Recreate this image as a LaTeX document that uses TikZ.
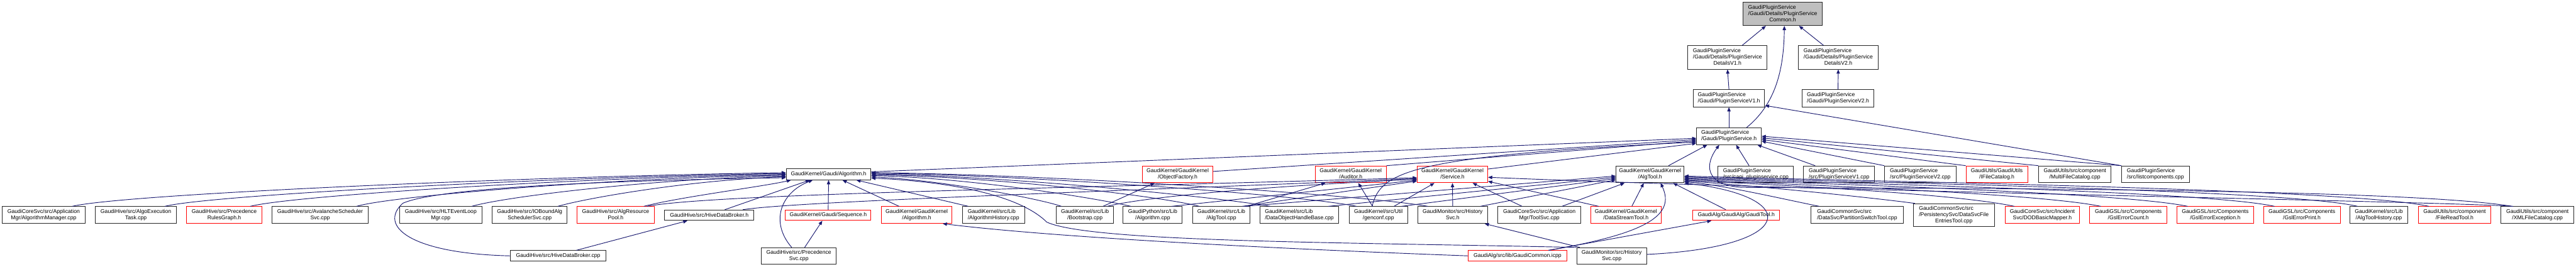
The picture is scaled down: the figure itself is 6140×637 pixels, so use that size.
\documentclass[tikz,border=0pt]{standalone}
\usepackage{fontspec}
\setmainfont{Liberation Sans}
\usetikzlibrary{arrows.meta,calc}
\definecolor{edgec}{HTML}{191970}
\definecolor{rootc}{HTML}{BFBFBF}
\newcommand\twol[2]{\begin{tabular}{@{}l@{}}#1\\\multicolumn{1}{@{}c@{}}{#2}\end{tabular}}
\newcommand\threel[3]{\begin{tabular}{@{}l@{}}#1\\#2\\\multicolumn{1}{@{}c@{}}{#3}\end{tabular}}
\newcommand\gnode[7]{\node[#6, minimum width={(#3-#2)*0.5pt}, minimum height={(#5-#4)*0.5pt}] (#1) at ({(#2+#3)/2},{(#4+#5)/2}) {#7};}
\tikzset{
 gbox/.style={draw=black!85, line width=0.7pt, fill=white, inner sep=0pt, font=\fontsize{6.5}{7.5}\selectfont, text=black},
 rbox/.style={gbox, draw=red},
 root/.style={gbox, fill=rootc},
 edge/.style={draw=edgec, line width=0.7pt, -{Triangle[length=5pt,width=4pt]}},
}
\begin{document}
\begin{tikzpicture}[x=0.5pt,y=-0.5pt]
\fill[white] (0,0) rectangle (6140,637);
\useasboundingbox (0,0) rectangle (6140,637);
% top
\gnode{common}{4154}{4344}{5}{61}{root}{\threel{GaudiPluginService}{/Gaudi/Details/PluginService}{Common.h}}
\gnode{dv1}{4023}{4212}{109}{165}{gbox}{\threel{GaudiPluginService}{/Gaudi/Details/PluginService}{DetailsV1.h}}
\gnode{dv2}{4287}{4476}{109}{165}{gbox}{\threel{GaudiPluginService}{/Gaudi/Details/PluginService}{DetailsV2.h}}
\gnode{psv1}{4036}{4206}{214}{255}{gbox}{\twol{GaudiPluginService}{/Gaudi/PluginServiceV1.h}}
\gnode{psv2}{4296}{4466}{214}{255}{gbox}{\twol{GaudiPluginService}{/Gaudi/PluginServiceV2.h}}
\gnode{ps}{4044}{4198}{305}{345}{gbox}{\twol{GaudiPluginService}{/Gaudi/PluginService.h}}
% middle
\gnode{galg}{1874}{2076}{403}{429}{gbox}{GaudiKernel/Gaudi/Algorithm.h}
\gnode{objf}{2723}{2891}{396}{436}{rbox}{\twol{GaudiKernel/GaudiKernel}{/ObjectFactory.h}}
\gnode{aud}{3135}{3304}{396}{436}{rbox}{\twol{GaudiKernel/GaudiKernel}{/Auditor.h}}
\gnode{svc}{3378}{3546}{396}{436}{rbox}{\twol{GaudiKernel/GaudiKernel}{/Service.h}}
\gnode{algtool}{3852}{4014}{396}{436}{gbox}{\twol{GaudiKernel/GaudiKernel}{/AlgTool.h}}
\gnode{capi}{4095}{4275}{396}{436}{gbox}{\twol{GaudiPluginService}{/src/capi\_pluginservice.cpp}}
\gnode{psv1cpp}{4299}{4468}{396}{436}{gbox}{\twol{GaudiPluginService}{/src/PluginServiceV1.cpp}}
\gnode{psv2cpp}{4492}{4662}{396}{436}{gbox}{\twol{GaudiPluginService}{/src/PluginServiceV2.cpp}}
\gnode{ifc}{4686}{4833}{396}{436}{rbox}{\twol{GaudiUtils/GaudiUtils}{/IFileCatalog.h}}
\gnode{mfc}{4859}{5032}{396}{436}{gbox}{\twol{GaudiUtils/src/component}{/MultiFileCatalog.cpp}}
\gnode{listc}{5057}{5218}{396}{436}{gbox}{\twol{GaudiPluginService}{/src/listcomponents.cpp}}
% bottom row
\gnode{amgr}{5}{203}{493}{533}{gbox}{\twol{GaudiCoreSvc/src/Application}{Mgr/AlgorithmManager.cpp}}
\gnode{aet}{227}{421}{493}{533}{gbox}{\twol{GaudiHive/src/AlgoExecution}{Task.cpp}}
\gnode{prg}{445}{624}{493}{533}{rbox}{\twol{GaudiHive/src/Precedence}{RulesGraph.h}}
\gnode{ava}{649}{877}{493}{533}{gbox}{\twol{GaudiHive/src/AvalancheScheduler}{Svc.cpp}}
\gnode{hlt}{952}{1149}{493}{533}{gbox}{\twol{GaudiHive/src/HLTEventLoop}{Mgr.cpp}}
\gnode{iob}{1173}{1352}{493}{533}{gbox}{\twol{GaudiHive/src/IOBoundAlg}{SchedulerSvc.cpp}}
\gnode{arp}{1375}{1560}{493}{533}{rbox}{\twol{GaudiHive/src/AlgResource}{Pool.h}}
\gnode{hdbh}{1584}{1797}{501}{526}{gbox}{GaudiHive/src/HiveDataBroker.h}
\gnode{seq}{1872}{2076}{501}{526}{rbox}{GaudiKernel/Gaudi/Sequence.h}
\gnode{kalg}{2101}{2269}{493}{533}{rbox}{\twol{GaudiKernel/GaudiKernel}{/Algorithm.h}}
\gnode{ahist}{2294}{2442}{493}{533}{gbox}{\twol{GaudiKernel/src/Lib}{/AlgorithmHistory.cpp}}
\gnode{boot}{2518}{2654}{493}{533}{gbox}{\twol{GaudiKernel/src/Lib}{/Bootstrap.cpp}}
\gnode{pyalg}{2677}{2818}{493}{533}{gbox}{\twol{GaudiPython/src/Lib}{/Algorithm.cpp}}
\gnode{atcpp}{2843}{2979}{493}{533}{gbox}{\twol{GaudiKernel/src/Lib}{/AlgTool.cpp}}
\gnode{dohb}{3003}{3191}{493}{533}{gbox}{\twol{GaudiKernel/src/Lib}{/DataObjectHandleBase.cpp}}
\gnode{genc}{3216}{3355}{493}{533}{gbox}{\twol{GaudiKernel/src/Util}{/genconf.cpp}}
\gnode{hsvch}{3379}{3546}{493}{533}{gbox}{\twol{GaudiMonitor/src/History}{Svc.h}}
\gnode{tsvc}{3570}{3768}{493}{533}{gbox}{\twol{GaudiCoreSvc/src/Application}{Mgr/ToolSvc.cpp}}
\gnode{dst}{3791}{3960}{493}{533}{rbox}{\twol{GaudiKernel/GaudiKernel}{/DataStreamTool.h}}
\gnode{gtool}{4035}{4242}{501}{526}{rbox}{GaudiAlg/GaudiAlg/GaudiTool.h}
\gnode{pst}{4317}{4536}{493}{533}{gbox}{\twol{GaudiCommonSvc/src}{/DataSvc/PartitionSwitchTool.cpp}}
\gnode{dsfe}{4560}{4754}{486}{541}{gbox}{\threel{GaudiCommonSvc/src}{/PersistencySvc/DataSvcFile}{EntriesTool.cpp}}
\gnode{dod}{4779}{4957}{493}{533}{rbox}{\twol{GaudiCoreSvc/src/Incident}{Svc/DODBasicMapper.h}}
\gnode{gec}{4981}{5165}{493}{533}{rbox}{\twol{GaudiGSL/src/Components}{/GslErrorCount.h}}
\gnode{gee}{5189}{5371}{493}{533}{rbox}{\twol{GaudiGSL/src/Components}{/GslErrorException.h}}
\gnode{gep}{5395}{5578}{493}{533}{rbox}{\twol{GaudiGSL/src/Components}{/GslErrorPrint.h}}
\gnode{athist}{5601}{5739}{493}{533}{gbox}{\twol{GaudiKernel/src/Lib}{/AlgToolHistory.cpp}}
\gnode{frt}{5764}{5937}{493}{533}{rbox}{\twol{GaudiUtils/src/component}{/FileReadTool.h}}
\gnode{xml}{5961}{6135}{493}{533}{gbox}{\twol{GaudiUtils/src/component}{/XMLFileCatalog.cpp}}
% lowest row
\gnode{hdbcpp}{1217}{1444}{598}{623}{gbox}{GaudiHive/src/HiveDataBroker.cpp}
\gnode{psvc}{1815}{1993}{591}{631}{gbox}{\twol{GaudiHive/src/Precedence}{Svc.cpp}}
\gnode{gcom}{3500}{3734}{598}{623}{rbox}{GaudiAlg/src/lib/GaudiCommon.icpp}
\gnode{hsvccpp}{3758}{3925}{591}{631}{gbox}{\twol{GaudiMonitor/src/History}{Svc.cpp}}

% ---- edges: top
\draw[edge] ($(dv1.north)+(35,0)$) -- ($(common.south)+(-40,0)$);
\draw[edge] ($(dv2.north)+(-35,0)$) -- ($(common.south)+(39,0)$);
\draw[edge] ($(ps.north)+(42,0)$) .. controls (4230,250) and (4252,170) .. ($(common.south)+(4,0)$);
\draw[edge] (psv1.north) -- (dv1.south);
\draw[edge] (psv2.north) -- (dv2.south);
\draw[edge] (ps.north) -- (psv1.south);
\draw[edge] (listc.north west) -- ($(psv1.south east)+(0,-4)$);
% into PluginService.h
\draw[edge] ($(galg.east)+(0,-6)$) -- ($(ps.west)+(0,5)$);
\draw[edge] ($(objf.east)+(0,-7)$) -- ($(ps.west)+(0,8)$);
\draw[edge] (aud.north east) -- ($(ps.west)+(0,11)$);
\draw[edge] ($(genc.north)+(-15,0)$) .. controls (3290,410) and (3360,372) .. ($(ps.west)+(0,14)$);
\draw[edge] ($(svc.north east)+(0,8)$) -- ($(ps.west)+(0,17)$);
\draw[edge] ($(algtool.north)+(44,0)$) -- ($(ps.south west)+(26,0)$);
\draw[edge] ($(capi.north)+(-16,0)$) -- ($(ps.south)+(17,0)$);
\draw[edge] ($(psv1cpp.north)+(-57,0)$) -- ($(ps.south east)+(-10,0)$);
\draw[edge] (psv2cpp.north west) -- ($(ps.east)+(0,12)$);
\draw[edge] (ifc.north west) -- ($(ps.east)+(0,8)$);
\draw[edge] (mfc.north west) -- ($(ps.east)+(0,4)$);
\draw[edge] (listc.north west) -- (ps.east);
\draw[edge] ($(xml.north)+(-60,0)$) .. controls (5700,445) and (4400,450) .. (4150,447) .. controls (4060,440) and (4065,390) .. ($(ps.south)+(-23,0)$);
% into Gaudi/Algorithm.h (left)
\draw[edge] ($(amgr.north)+(68,0)$) .. controls (300,462) and (1300,420) .. ($(galg.west)+(0,-4)$);
\draw[edge] ($(aet.north)+(69,0)$) .. controls (500,465) and (1350,421) .. ($(galg.west)+(0,-2)$);
\draw[edge] ($(prg.north)+(62,0)$) .. controls (700,466) and (1400,423) .. (galg.west);
\draw[edge] ($(ava.north)+(87,0)$) .. controls (930,468) and (1450,425) .. ($(galg.west)+(0,2)$);
\draw[edge] ($(hlt.north)+(74,0)$) .. controls (1200,470) and (1550,427) .. ($(galg.west)+(0,4)$);
\draw[edge] ($(iob.north)+(67,0)$) .. controls (1400,472) and (1650,429) .. ($(galg.west)+(0,6)$);
\draw[edge] (hdbcpp.west) .. controls (980,605) and (900,540) .. (960,485) .. controls (1050,445) and (1500,430) .. ($(galg.west)+(0,8)$);
% into Gaudi/Algorithm.h (bottom)
\draw[edge] ($(arp.north)+(67,0)$) .. controls (1620,470) and (1820,445) .. ($(galg.south west)+(12,0)$);
\draw[edge] ($(hdbh.north)+(37,0)$) -- ($(galg.south)+(-45,0)$);
\draw[edge] ($(psvc.north)+(-17,0)$) .. controls (1835,530) and (1860,460) .. ($(galg.south)+(-38,0)$);
\draw[edge] (seq.north) -- (galg.south);
\draw[edge] ($(kalg.north)+(-42,0)$) -- ($(galg.south)+(33,0)$);
\draw[edge] ($(ahist.north)+(-60,0)$) -- ($(galg.south)+(66,0)$);
\draw[edge] ($(psvc.north)+(14,0)$) -- ($(seq.south)+(-14,0)$);
\draw[edge] ($(hdbcpp.north)+(43,0)$) -- ($(hdbh.south)+(-52,0)$);
% into Gaudi/Algorithm.h (right)
\draw[edge] ($(boot.north)+(-56,0)$) .. controls (2480,475) and (2250,430) .. ($(galg.east)+(0,6)$);
\draw[edge] ($(pyalg.north)+(-52,0)$) .. controls (2600,470) and (2300,424) .. ($(galg.east)+(0,3)$);
\draw[edge] ($(atcpp.north)+(-52,0)$) .. controls (2750,465) and (2350,421) .. ($(galg.east)+(0,1)$);
\draw[edge] ($(dohb.north)+(-69,0)$) .. controls (2900,470) and (2400,420) .. ($(galg.east)+(0,-1)$);
\draw[edge] ($(genc.north)+(-52,0)$) .. controls (3100,465) and (2450,418) .. ($(galg.east)+(0,-3)$);
\draw[edge] ($(hsvch.north)+(-59,0)$) .. controls (3250,465) and (2500,416) .. ($(galg.east)+(0,-4)$);
\draw[edge] (hsvccpp.north west) .. controls (3200,578) and (2600,578) .. (2495,530) .. controls (2440,475) and (2300,435) .. ($(galg.east)+(0,9)$);
% GaudiCommon.icpp
\draw[edge] (gcom.west) .. controls (3000,592) and (2500,565) .. ($(kalg.south)+(62,0)$);
\draw[edge] ($(gcom.north)+(74,0)$) -- ($(gtool.south west)+(45,0)$);
\draw[edge] ($(gcom.north)+(74,0)$) .. controls (3920,558) and (3995,515) .. ($(algtool.south)+(25,0)$);
% HistorySvc.cpp
\draw[edge] ($(hsvccpp.north west)+(8,0)$) -- ($(hsvch.south east)+(-8,0)$);
\draw[edge] ($(hsvccpp.east)+(0,-4)$) .. controls (4280,590) and (4300,470) .. (algtool.south east);
% into Service.h
\draw[edge] ($(arp.north)+(75,0)$) .. controls (1700,462) and (2600,448) .. ($(svc.west)+(0,8)$);
\draw[edge] ($(hdbh.north)+(80,0)$) .. controls (1900,480) and (2700,455) .. ($(svc.west)+(0,10)$);
\draw[edge] ($(boot.north)+(53,0)$) .. controls (2750,465) and (3100,440) .. ($(svc.west)+(0,12)$);
\draw[edge] ($(pyalg.north)+(45,0)$) -- ($(svc.west)+(0,14)$);
\draw[edge] ($(atcpp.north)+(50,0)$) -- ($(svc.west)+(0,16)$);
\draw[edge] ($(genc.north)+(37,0)$) -- ($(svc.south)+(-43,0)$);
\draw[edge] (hsvch.north) -- (svc.south);
\draw[edge] ($(tsvc.north)+(-41,0)$) -- ($(svc.south)+(48,0)$);
\draw[edge] ($(dst.north)+(-65,0)$) -- ($(svc.south east)+(0,-4)$);
\draw[edge] ($(xml.north)+(-58,0)$) .. controls (5800,480) and (4300,455) .. ($(svc.east)+(0,7)$);
% Auditor.h, ObjectFactory.h
\draw[edge] ($(atcpp.north)+(60,0)$) -- ($(aud.south west)+(25,0)$);
\draw[edge] ($(genc.north)+(-14,0)$) -- ($(aud.south)+(18,0)$);
\draw[edge] ($(boot.north)+(43,0)$) -- ($(objf.south)+(-55,0)$);
% into AlgTool.h
\draw[edge] ($(atcpp.north)+(55,0)$) -- ($(algtool.west)+(0,4)$);
\draw[edge] ($(dohb.north)+(69,0)$) -- ($(algtool.west)+(0,7)$);
\draw[edge] ($(genc.north)+(55,0)$) -- ($(algtool.west)+(0,10)$);
\draw[edge] ($(hsvch.north)+(66,0)$) -- ($(algtool.west)+(0,13)$);
\draw[edge] ($(tsvc.north)+(54,0)$) -- ($(algtool.south west)+(21,0)$);
\draw[edge] ($(dst.north)+(14,0)$) -- ($(algtool.south)+(-15,0)$);
\draw[edge] ($(gtool.north)+(-25,0)$) -- ($(algtool.south east)+(-27,0)$);
\draw[edge] ($(pst.north west)+(20,0)$) .. controls (4250,475) and (4100,440) .. ($(algtool.east)+(0,18)$);
\draw[edge] ($(dsfe.north west)+(5,0)$) .. controls (4450,470) and (4150,440) .. ($(algtool.east)+(0,16)$);
\draw[edge] ($(dod.north west)+(23,0)$) .. controls (4650,460) and (4200,440) .. ($(algtool.east)+(0,14)$);
\draw[edge] ($(gec.north west)+(27,0)$) .. controls (4850,460) and (4250,440) .. ($(algtool.east)+(0,12)$);
\draw[edge] ($(gee.north west)+(26,0)$) .. controls (5050,458) and (4300,438) .. ($(algtool.east)+(0,10)$);
\draw[edge] ($(gep.north west)+(27,0)$) .. controls (5250,455) and (4350,437) .. ($(algtool.east)+(0,8)$);
\draw[edge] ($(athist.north west)+(19,0)$) .. controls (5450,452) and (4400,435) .. ($(algtool.east)+(0,6)$);
\draw[edge] ($(frt.north west)+(26,0)$) .. controls (5600,450) and (4450,433) .. ($(algtool.east)+(0,4)$);
\end{tikzpicture}
\end{document}
